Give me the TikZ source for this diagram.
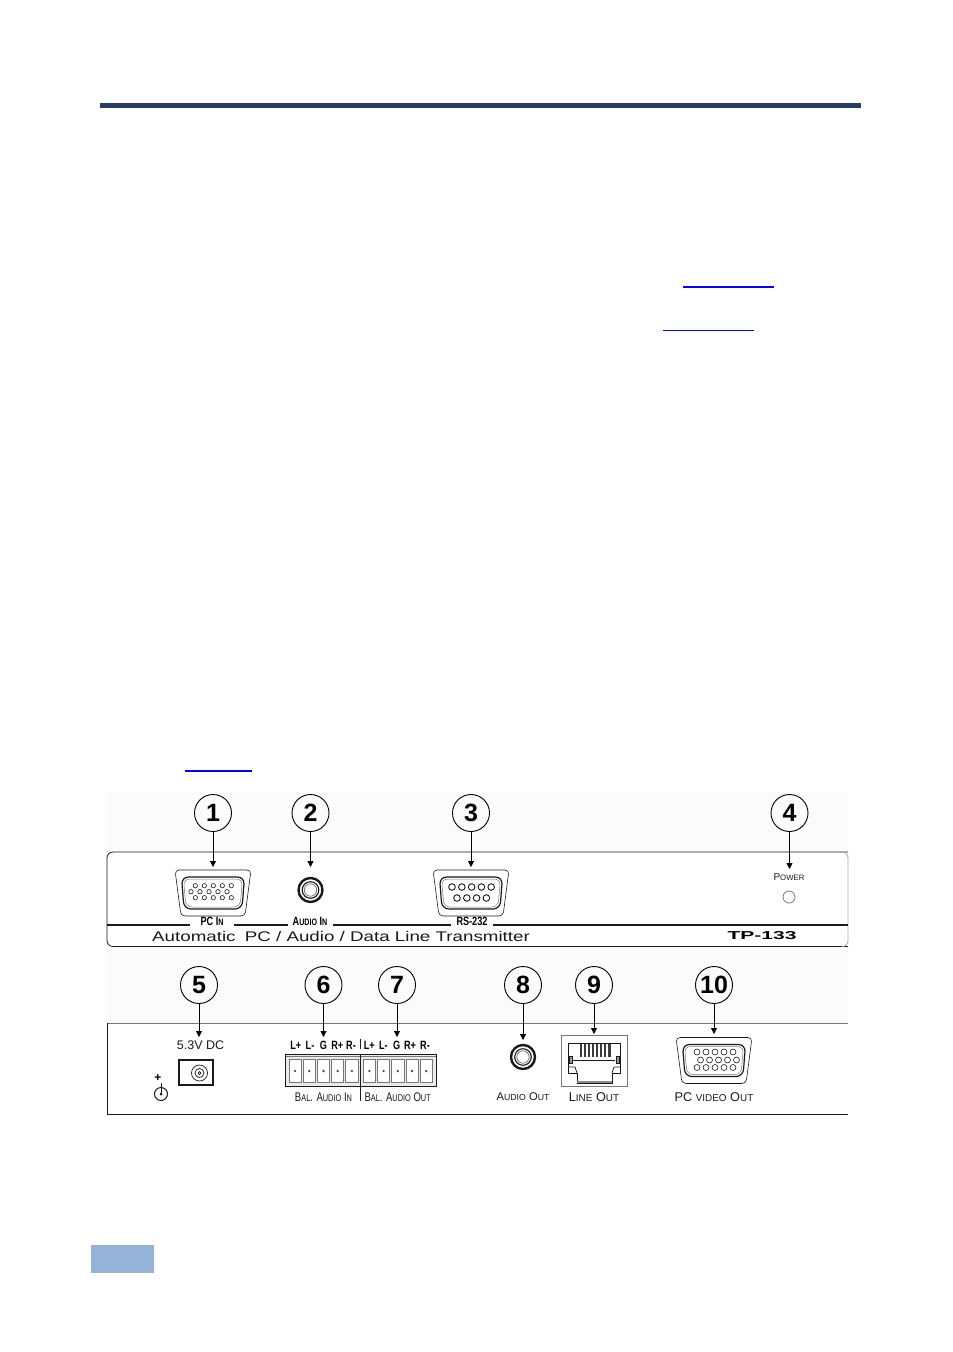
\documentclass[tikz,border=0pt]{standalone}
\usepackage{fontspec}
\setmainfont{Liberation Sans}
\newfontfamily\narrowfont[FakeStretch=0.76]{Liberation Sans}
\newfontfamily\panelfont[FakeStretch=1.34]{Liberation Sans}
\newfontfamily\modelfont[FakeStretch=1.83]{Liberation Sans}
\usetikzlibrary{arrows.meta}
\definecolor{rulecol}{HTML}{243F66}
\definecolor{footcol}{HTML}{95B3D7}
\definecolor{linkcol}{HTML}{0000FF}
\definecolor{inkcol}{HTML}{1A1A1A}
\definecolor{edgecol}{HTML}{777777}
\newcommand{\sm}[1]{\scalebox{0.78}{#1}}
\newcommand{\dshell}[1]{%
    \draw[inkcol,line width=.6pt,rounded corners=4pt,shift={#1}]
      (-38,-23) -- (38,-23) -- (32,23) -- (-32,23) -- cycle;
    \draw[inkcol,line width=1.2pt,rounded corners=7pt,shift={#1}]
      (-31.5,-16) -- (31.5,-16) -- (29,16) -- (-29,16) -- cycle;
    \draw[edgecol,line width=.5pt,rounded corners=6pt,shift={#1}]
      (-29.5,-14) -- (29.5,-14) -- (27,14) -- (-27,14) -- cycle;
}
\tikzset{
    callout/.style={draw,circle,line width=.9pt,minimum size=37pt,inner sep=0pt,font=\fontsize{25}{25}\selectfont\bfseries},
    pointer/.style={draw,line width=.8pt,-{Triangle[length=6pt,width=6pt]}},
    hole/.style={draw=inkcol,line width=.6pt},
    gaplabel/.style={fill=white,inner sep=0pt,minimum height=10pt,font=\narrowfont\bfseries\fontsize{12}{12}\selectfont},
    pinlabel/.style={inner sep=0pt,font=\narrowfont\bfseries\fontsize{12}{12}\selectfont},
    portlabel/.style={inner sep=0pt,text=inkcol,font=\fontsize{12.7}{13}\selectfont},
    tinylabel/.style={inner sep=0pt,text=inkcol,font=\narrowfont\fontsize{12.5}{12}\selectfont},
    cellbox/.style={draw=edgecol,line width=.7pt},
}
\begin{document}
\begin{tikzpicture}[x=1pt,y=-1pt]
    \useasboundingbox (0,0) rectangle (953,1352);
    \fill[rulecol] (100,103) rectangle (861,108);
    \fill[footcol] (91,1245) rectangle (154,1273);
    \fill[linkcol] (683,286) rectangle (774,288);
    \fill[linkcol] (663,330) rectangle (754,331);
    \fill[linkcol] (185,770) rectangle (252,772);
    \fill[black!1.5] (107,792) rectangle (848,1115);

    \fill[white,rounded corners=6pt] (107,852) rectangle (848,946.5);
    \draw[inkcol,line width=.8pt,rounded corners=6pt] (848,946.5) -- (107,946.5) -- (107,852) -- (848,852);
    \draw[edgecol!60,line width=.8pt,rounded corners=6pt] (842,852) -- (848,852) -- (848,946.5) -- (842,946.5);
    \draw[inkcol,line width=1.8pt] (107,925) -- (848,925);

    \fill[white] (107,1023) rectangle (848,1114);
    \draw[edgecol,line width=.9pt] (848,1023) -- (107,1023);
    \draw[inkcol,line width=.9pt] (107,1023) -- (107,1114) -- (848,1114);

    \foreach \n/\x/\y in {1/213/813,2/310.5/813,3/471/813,4/789.5/813,5/199/985,6/323.5/985,7/397/985,8/523/985,9/594/985,10/714/985}
      \node[callout] (c\n) at (\x,\y) {\n};
    \foreach \n/\x/\y in {1/213/867,2/310.5/867,3/471/867,4/789.5/869,5/199/1037,6/323.5/1037,7/397/1037,8/523/1040,9/594/1034,10/714/1034}
      \coordinate (t\n) at (\x,\y);
    \foreach \n in {1,...,10}
      \draw[pointer] (c\n) -- (t\n);

    \dshell{(213,893)}
    \foreach \x in {0,...,4} {
      \draw[hole] (195.3+\x*9,885.7) circle (2.2);
      \draw[hole] (191+\x*9,891.7) circle (2.2);
      \draw[hole] (195.3+\x*9,897.7) circle (2.2);
    }
    \dshell{(471,893)}
    \foreach \x in {0,...,4}
      \draw[hole,line width=.9pt] (452+\x*9.8,887) circle (3.3);
    \foreach \x in {0,...,3}
      \draw[hole,line width=.9pt] (457+\x*9.8,898) circle (3.3);
    \dshell{(714,1060.5)}
    \foreach \x in {0,...,4} {
      \draw[hole] (697+\x*9,1052) circle (3);
      \draw[hole] (700.5+\x*9,1060) circle (3);
      \draw[hole] (697+\x*9,1067.5) circle (3);
    }

    \foreach \x/\y in {310.5/890,523/1057} {
      \draw[inkcol,line width=2.4pt,fill=white] (\x,\y) circle (12);
      \draw[inkcol,line width=1.1pt] (\x,\y) circle (8.3);
      \draw[edgecol,line width=.8pt] (\x,\y) circle (6.2);
    }

    \node[gaplabel,minimum width=44pt] (pcin) at (212,921.5) {PC I\sm{N}};
    \node[gaplabel,minimum width=45pt] (audioin) at (310,921.5) {A\sm{UDIO} I\sm{N}};
    \node[gaplabel,minimum width=42pt] (rs) at (472,921.5) {RS-232};
    \node[inner sep=0pt,anchor=west,text=inkcol,font=\panelfont\fontsize{14}{14}\selectfont] (tagline) at (152,936) {Automatic\hspace{4pt} PC / Audio / Data Line Transmitter};
    \node[inner sep=0pt,font=\modelfont\bfseries\fontsize{11.5}{12}\selectfont] (model) at (762,936) {TP-133};
    \node[inner sep=0pt,text=inkcol,font=\fontsize{10}{10}\selectfont] (power) at (789,877) {P\sm{OWER}};
    \draw[edgecol,line width=.8pt] (789,897) circle (6);

    \node[inner sep=0pt,text=inkcol,font=\fontsize{12.5}{13}\selectfont] (dc) at (200.5,1045) {5.3V DC};
    \draw[inkcol,line width=1.3pt,fill=white] (179,1060) rectangle (213,1085);
    \draw[inkcol,line width=.7pt] (199.5,1073) circle (8);
    \draw[inkcol,line width=.7pt] (199.5,1073) circle (4.5);
    \draw[inkcol,line width=.7pt] (199.5,1073) circle (1.5);
    \node[inner sep=0pt,font=\bfseries\fontsize{12}{12}\selectfont] (plus) at (158,1078) {+};
    \draw[inkcol,line width=1pt] (161,1094) circle (6.5);
    \draw[inkcol,line width=1pt] (161,1083) -- (161,1093);
    \fill[inkcol] (161,1094) circle (1.5);

    \fill[black!8] (285,1054) rectangle (436,1086);
    \draw[edgecol,line width=.7pt] (285,1056.5) -- (436,1056.5);
    \draw[inkcol,line width=.8pt] (285,1054) rectangle (436,1086);
    \draw[inkcol,line width=.7pt] (360,1054) -- (360,1086);
    \foreach \s in {289,363.3}
      \foreach \i in {0,...,4} {
        \draw[cellbox,fill=white] (\s+\i*14.2,1059) rectangle (\s+\i*14.2+12.2,1082);
        \fill[inkcol!80] (\s+\i*14.2+6.1,1071) circle (1.3);
      }
    \foreach \n/\x/\t in {a/295.7/L+,b/310/L-,c/323.3/G,d/337.3/R+,e/351/R-,f/369.3/L+,g/383.3/L-,h/396.7/G,i/410/R+,j/425/R-}
      \node[pinlabel] (pin\n) at (\x,1045) {\t};
    \draw[inkcol,line width=.8pt] (360,1039) -- (360,1049);
    \draw[inkcol,line width=.8pt] (360,1087) -- (360,1101);
    \node[tinylabel] (balin) at (323.5,1097) {B\sm{AL}. A\sm{UDIO} I\sm{N}};
    \node[tinylabel] (balout) at (397.7,1097) {B\sm{AL}. A\sm{UDIO} O\sm{UT}};

    \draw[edgecol,line width=1pt] (561.7,1035) rectangle (627,1086);
    \draw[inkcol,line width=.9pt] (568,1043) -- (620,1043) -- (620,1073) -- (612,1073) -- (612,1083) -- (577,1083) -- (577,1073) -- (568,1073) -- cycle;
    \draw[inkcol,line width=.7pt] (568,1067) -- (575,1067) -- (577,1073);
    \draw[inkcol,line width=.7pt] (620,1067) -- (614,1067) -- (612,1073);
    \foreach \i in {0,...,7}
      \fill[inkcol!85] (579.5+\i*4.1,1044) rectangle (581.8+\i*4.1,1057);
    \draw[inkcol,line width=.7pt] (573,1060) -- (615,1060);
    \draw[inkcol,line width=.5pt,fill=black!40] (569,1056) rectangle (572,1063);
    \draw[inkcol,line width=.5pt,fill=black!40] (616,1056) rectangle (619,1063);
    \fill[black!45] (577,1080.5) rectangle (612,1083);
    \node[portlabel,font=\fontsize{11.2}{12}\selectfont] (audioout) at (523,1097) {A\sm{UDIO} O\sm{UT}};
    \node[portlabel] (lineout) at (594,1097) {L\sm{INE} O\sm{UT}};
    \node[portlabel] (videoout) at (714,1097) {PC \sm{VIDEO} O\sm{UT}};
\end{tikzpicture}
\end{document}
